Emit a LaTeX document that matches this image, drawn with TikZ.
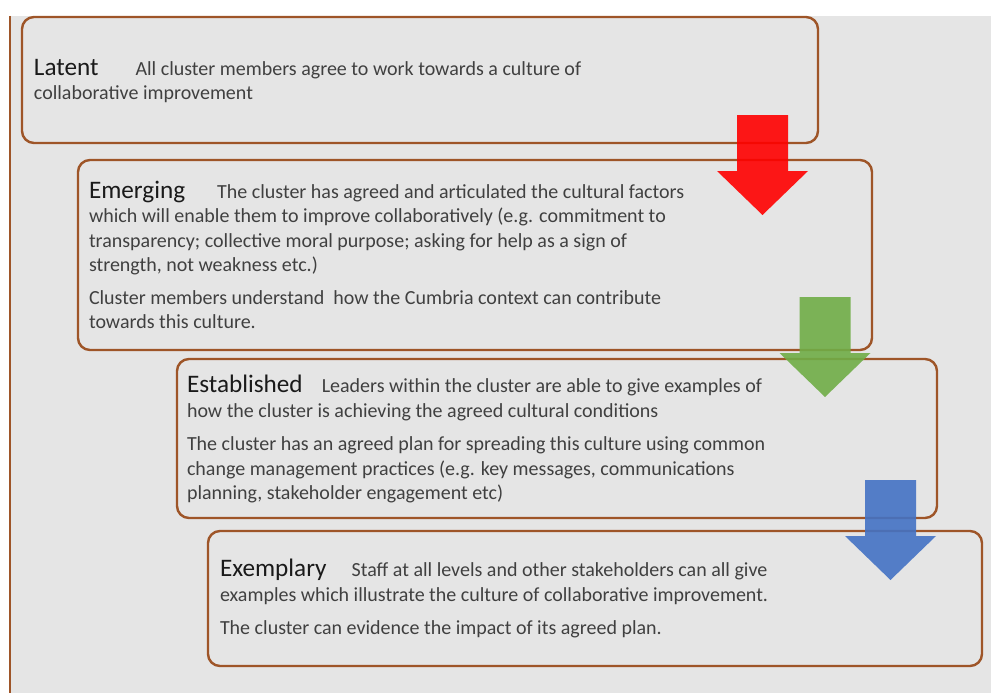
\documentclass[tikz,border=0pt]{standalone}
\usepackage{fontspec}
\setmainfont{Carlito}

\definecolor{pagegrey}{HTML}{E5E5E5}
\definecolor{stagebrown}{HTML}{9E5528}
\definecolor{bodytext}{HTML}{404040}
\definecolor{titletext}{HTML}{1A1A1A}
\definecolor{arrowred}{HTML}{FF0000}
\definecolor{arrowgreen}{HTML}{70AD47}
\definecolor{arrowblue}{HTML}{4472C4}

\newcommand{\stagename}[1]{{\fontsize{25.2}{25}\selectfont\color{titletext}#1}}

\begin{document}
\begin{tikzpicture}[x=1pt,y=-1pt,
		stage/.style={draw=stagebrown,line width=2.4pt,rounded corners=12pt,inner sep=0pt},
		blurb/.style={anchor=base west,inner sep=0pt,align=left,text=bodytext,
			font=\fontsize{20}{24.5}\selectfont}]
				\useasboundingbox (0,0) rectangle (991,693);
				% page
				\fill[pagegrey] (11,16) rectangle (991,693);
				\draw[stagebrown,line width=2.5pt] (10,16) -- (10,693);
				% stages
				\node[stage,minimum width=796pt,minimum height=126pt] (latent) at (420,80) {};
				\node[stage,minimum width=794pt,minimum height=190pt] (emerging) at (475,255) {};
				\node[stage,minimum width=760pt,minimum height=159pt] (established) at (557,438.5) {};
				\node[stage,minimum width=774pt,minimum height=135pt] (exemplary) at (595,598.5) {};
				% texts (anchored at the baseline of their last line)
				\node[blurb] (latenttext) at ([shift={(13,84)}]latent.north west)
					{\stagename{Latent}\hspace{37pt}All cluster members agree to work towards a culture of\\
					collaborative improvement};
				\node[blurb] (emergingtext) at ([shift={(12,170)}]emerging.north west)
					{\stagename{Emerging}\hspace{32pt}The cluster has agreed and articulated the cultural factors\\
					which will enable them to improve collaboratively (e.g. commitment to\\
					transparency; collective moral purpose; asking for help as a sign of\\
					strength, not weakness etc.)\\[8pt]
					Cluster members understand\ \ how the Cumbria context can contribute\\
					towards this culture.};
				\node[blurb] (establishedtext) at ([shift={(11,142)}]established.north west)
					{\stagename{Established}\hspace{19pt}Leaders within the cluster are able to give examples of\\
					how the cluster is achieving the agreed cultural conditions\\[9pt]
					The cluster has an agreed plan for spreading this culture using common\\
					change management practices (e.g. key messages, communications\\
					planning, stakeholder engagement etc)};
				\node[blurb] (exemplarytext) at ([shift={(13,105)}]exemplary.north west)
					{\stagename{Exemplary}\hspace{25pt}Staff at all levels and other stakeholders can all give\\
					examples which illustrate the culture of collaborative improvement.\\[9pt]
					The cluster can evidence the impact of its agreed plan.};
				% arrows between stages
				\foreach \cx/\ty/\arrowcol in {762.5/115/arrowred,825/297/arrowgreen,890.5/480/arrowblue}
					\fill[\arrowcol,fill opacity=0.9] (\cx-25.5,\ty) -- (\cx+25.5,\ty) -- (\cx+25.5,\ty+56)
						-- (\cx+45.5,\ty+56) -- (\cx,\ty+100) -- (\cx-45.5,\ty+56) -- (\cx-25.5,\ty+56) -- cycle;
			\end{tikzpicture}
\end{document}
